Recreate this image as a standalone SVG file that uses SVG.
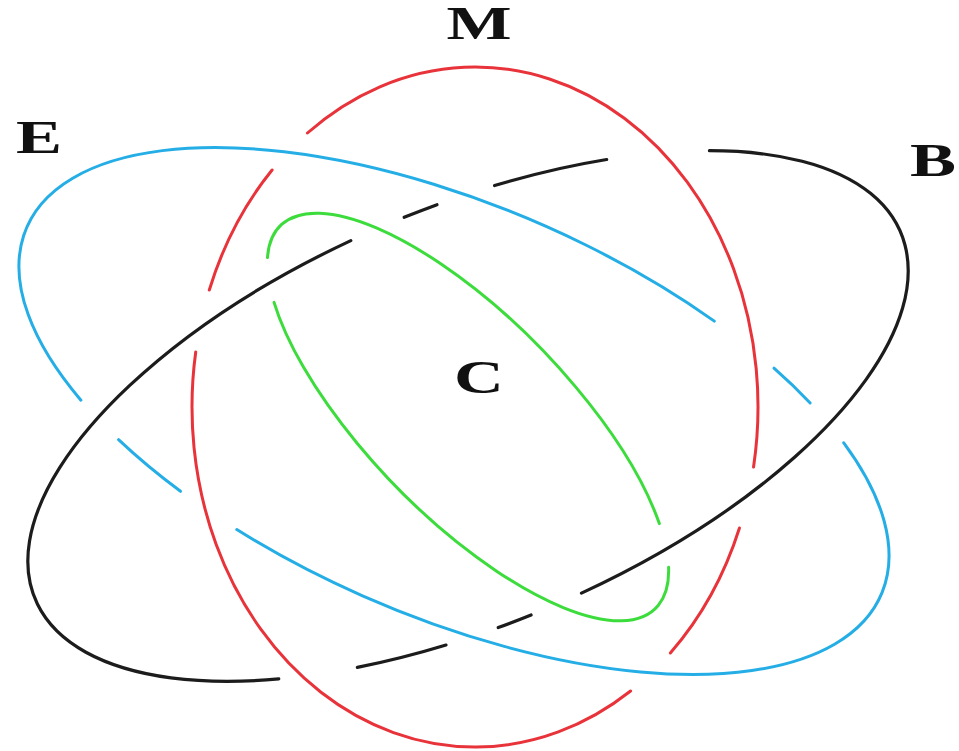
<svg xmlns="http://www.w3.org/2000/svg" width="959" height="751" viewBox="0 0 959 751">
  <style>
    .ring { fill: none; stroke-width: 3; stroke-linecap: round; }
    .red { stroke: #e8333a; }
    .blue { stroke: #25aee6; }
    .green { stroke: #3ddc3d; }
    .black { stroke: #1c1c1c; stroke-width: 3.2; }
    .lbl { font-family: "Liberation Serif", "Times New Roman", serif; font-weight: bold; font-size: 46px; fill: #111; text-anchor: middle; }
  </style>
  <rect width="959" height="751" fill="#ffffff"/>

  <g id="node-M">
    <path class="ring red" d="M 209.29,290 A 283 340 0 0 1 272.08,170"/>
    <path class="ring red" d="M 307.44,133 A 283 340 0 0 1 753.56,467"/>
    <path class="ring red" d="M 739.47,528 A 283 340 0 0 1 670.35,653"/>
    <path class="ring red" d="M 630.6,691 A 283 340 0 0 1 195.73,352"/>
    <text class="lbl" transform="translate(479,39) scale(1.5,1)">M</text>
  </g>

  <g id="node-B">
    <path class="ring black" d="M 709.43,150.70 A 470 208 -23 0 1 581.48,593.16"/>
    <path class="ring black" d="M 531.08,614.99 A 470 208 -23 0 1 498.24,627.59"/>
    <path class="ring black" d="M 446.03,645.04 A 470 208 -23 0 1 357.33,667.43"/>
    <path class="ring black" d="M 278.76,678.90 A 470 208 -23 0 1 350.81,240.58"/>
    <path class="ring black" d="M 404.15,217.32 A 470 208 -23 0 1 437.0,204.70"/>
    <path class="ring black" d="M 494.58,185.56 A 470 208 -23 0 1 606.67,159.51"/>
    <text class="lbl" transform="translate(933,176) scale(1.5,1)">B</text>
  </g>

  <g id="node-E">
    <path class="ring blue" d="M 843.75,442.78 A 465 206 23.2 0 1 236.8,529.57"/>
    <path class="ring blue" d="M 180.51,491.31 A 465 206 23.2 0 1 118.55,439.67"/>
    <path class="ring blue" d="M 80.9,400.19 A 465 206 23.2 0 1 714.3,321.12"/>
    <path class="ring blue" d="M 773.97,368.21 A 465 206 23.2 0 1 810.15,402.97"/>
    <text class="lbl" transform="translate(39,153) scale(1.5,1)">E</text>
  </g>

  <g id="node-C">
    <path class="ring green" d="M 668.59,567.37 A 268 100 45.6 0 1 274.04,302.34"/>
    <path class="ring green" d="M 267.51,257.62 A 268 100 45.6 0 1 659.33,523.6"/>
    <text class="lbl" transform="translate(479,393) scale(1.5,1)">C</text>
  </g>
</svg>
